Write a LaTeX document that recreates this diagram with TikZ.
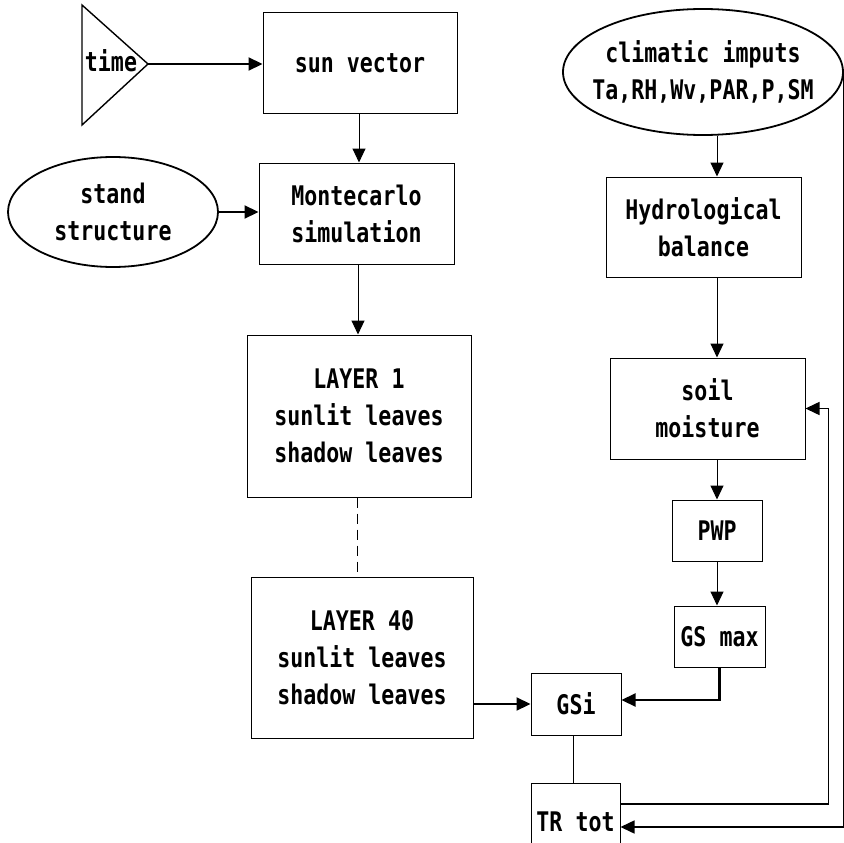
\documentclass[tikz,border=0pt]{standalone}
\usepackage{fontspec}
\newfontfamily\plotfont[FakeStretch=0.8]{DejaVu Sans Mono Bold}
\usetikzlibrary{shapes.geometric, arrows.meta}

\begin{document}
\begin{tikzpicture}[x=1pt,y=-1pt,
    every node/.style={font=\plotfont\fontsize{27}{37}\selectfont, align=center, inner sep=0pt},
    box/.style 2 args={draw, line width=1pt, minimum width=#1, minimum height=#2},
    oval/.style 2 args={draw, ellipse, line width=1.8pt, minimum width=#1, minimum height=#2},
    tip/.style={-{Triangle[length=14pt,width=13pt]}},
    thin line/.style={line width=1pt},
    thick line/.style={line width=2.2pt}]
  \useasboundingbox (0,0) rectangle (844,843);
  % left column
  \draw[line width=1.4pt] (82,5)--(148,64)--(82,125)--cycle;
  \coordinate (timetip) at (148,64);
  \node (time) at (111,61) {time};
  \node[box={194}{100}] (sun) at (360,63) {sun vector};
  \node[oval={210}{110}] (stand) at (113,212) {stand\\structure};
  \node[box={195}{101}] (monte) at (356.5,213.5) {Montecarlo\\simulation};
  \node[box={224}{162}] (layer1) at (359,416) {LAYER 1\\sunlit leaves\\shadow leaves};
  \node[box={222}{161}] (layer40) at (362,657.5) {LAYER 40\\sunlit leaves\\shadow leaves};
  % right column
  \node[oval={280}{126}, inner xsep=-25pt] (clim) at (703,72) {climatic imputs\\Ta,RH,Wv,PAR,P,SM};
  \node[box={195}{100}] (hydro) at (703.5,227) {Hydrological\\balance};
  \node[box={195}{101}] (soil) at (707.5,408.5) {soil\\moisture};
  \node[box={90}{61}] (pwp) at (717,530.5) {PWP};
  \node[box={91}{61}] (gsmax) at (719.5,636.5) {GS max};
  \node[box={90}{62}] (gsi) at (576,704) {GSi};
  \node[box={89}{78}] (trtot) at (575.5,822) {TR tot};

  \draw[thick line,tip] (timetip) -- (timetip -| sun.west);
  \draw[thin line,tip] (sun.south -| 359,0) -- (monte.north -| 359,0);
  \draw[thick line,tip] (stand.east) -- (stand.east -| monte.west);
  \draw[thin line,tip] (monte.south -| 358,0) -- (layer1.north -| 358,0);
  \draw[thin line,dashed,dash pattern=on 10pt off 6pt] (layer1.south -| 357,0) -- (layer40.north -| 357,0);
  \draw[thick line,tip] (layer40.east |- gsi) -- (gsi.west);
  \draw[thin line,tip] (clim.south -| pwp) -- (hydro.north -| pwp);
  \draw[thin line,tip] (hydro.south -| pwp) -- (soil.north -| pwp);
  \draw[thin line,tip] (soil.south -| pwp) -- (pwp.north);
  \draw[thin line,tip] (pwp.south) -- (gsmax.north -| pwp);
  \draw[thick line,tip] (gsmax.south) -- (gsmax.south |- 0,700) -- (gsi.east |- 0,700);
  \draw[thin line] (gsi.south -| 573,0) -- (trtot.north -| 573,0);
  \draw[line width=1.5pt,tip] ([yshift=18pt]trtot.east) -- ++(208,0) |- (soil.east);
  \draw[line width=1.5pt,tip] (clim.east) |- ([yshift=-5pt]trtot.east);
\end{tikzpicture}
\end{document}
